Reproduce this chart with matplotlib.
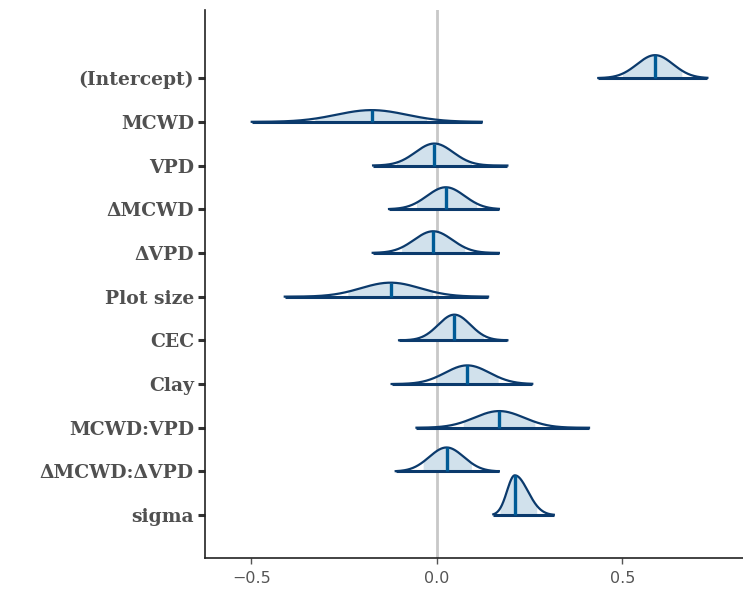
import numpy as np
import matplotlib
matplotlib.use("Agg")
import matplotlib.pyplot as plt

# parameters, top to bottom
params = ["(Intercept)", "MCWD", "VPD", "\u0394MCWD", "\u0394VPD", "Plot size",
          "CEC", "Clay", "MCWD:VPD", "\u0394MCWD:\u0394VPD", "sigma"]

# posterior summaries
medians = [0.588, -0.176, -0.007, 0.024, -0.010, -0.125, 0.047, 0.082, 0.168, 0.026, 0.210]
sd_left = [0.0485, 0.095, 0.0507, 0.0507, 0.0514, 0.0797, 0.0434, 0.0597, 0.0668, 0.0465, 0.021]
sd_right = [0.0485, 0.095, 0.0507, 0.0507, 0.0514, 0.0797, 0.0434, 0.0597, 0.0668, 0.0465, 0.035]
outer_lo = [0.435, -0.499, -0.172, -0.129, -0.173, -0.410, -0.102, -0.122, -0.055, -0.111, 0.152]
outer_hi = [0.729, 0.121, 0.190, 0.167, 0.167, 0.138, 0.190, 0.257, 0.410, 0.167, 0.315]
inner_lo = [0.500, -0.329, -0.109, -0.055, -0.095, -0.240, -0.041, 0.000, 0.071, -0.037, 0.170]
inner_hi = [0.660, -0.028, 0.093, 0.107, 0.075, -0.011, 0.125, 0.165, 0.264, 0.093, 0.269]

light = "#d1e1ec"
dark = "#0b3a6c"
mid = "#005b96"
scale = 0.064

fig = plt.figure(figsize=(7.43, 5.94), dpi=100)
ax = fig.add_axes([0.2759, 0.0606, 0.7241, 0.9226])

ax.axvline(0, color="#c8c8c8", lw=2, zorder=0)

n = len(params)
for i, name in enumerate(params):
    y0 = n - 1 - i
    m, s1, s2 = medians[i], sd_left[i], sd_right[i]
    peak = 2 / (np.sqrt(2 * np.pi) * (s1 + s2))

    def dens(x):
        s = np.where(x < m, s1, s2)
        return scale * peak * np.exp(-0.5 * ((x - m) / s) ** 2)

    xs = np.linspace(outer_lo[i], outer_hi[i], 300)
    xi = np.linspace(inner_lo[i], inner_hi[i], 200)
    ax.fill_between(xi, y0, y0 + dens(xi), color=light, lw=0, zorder=2)
    ax.plot(xs, y0 + dens(xs), color=dark, lw=1.6, zorder=3)
    ax.plot([outer_lo[i], outer_hi[i]], [y0, y0], color=dark, lw=2.2,
            solid_capstyle="butt", zorder=3)
    ax.plot([m, m], [y0, y0 + dens(np.array([m]))[0]], color=mid, lw=2.4,
            solid_capstyle="butt", zorder=4)

ax.set_xlim(-0.625, 0.825)
ax.set_ylim(-0.98, 11.56)
ax.set_xticks([-0.5, 0.0, 0.5])
ax.set_xticklabels(["\u22120.5", "0.0", "0.5"])
ax.set_yticks(range(n))
ax.set_yticklabels(params[::-1], family="DejaVu Serif", fontweight="bold",
                   fontsize=13.5, color="#505050")

for lab in ax.get_xticklabels():
    lab.set_color("#555555")
    lab.set_fontsize(11.5)
ax.tick_params(axis="y", length=5, width=2.2, color="#333333", pad=3)
ax.tick_params(axis="x", length=4, width=1, color="#555555", pad=5)

for side in ["top", "right"]:
    ax.spines[side].set_visible(False)
for side in ["left", "bottom"]:
    ax.spines[side].set_linewidth(1.2)
    ax.spines[side].set_color("#222222")

fig.savefig("out.png", dpi=100)
